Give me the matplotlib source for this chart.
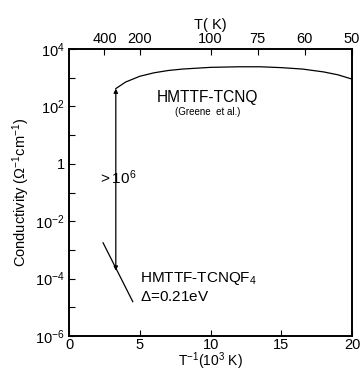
import numpy as np
import matplotlib.pyplot as plt

plt.rcParams['font.family'] = ['Liberation Sans', 'DejaVu Sans']
plt.rcParams['mathtext.fontset'] = 'custom'
plt.rcParams['mathtext.rm'] = 'Liberation Sans'
plt.rcParams['mathtext.it'] = 'Liberation Sans'

# --- datos ---
# HMTTF-TCNQ (Greene et al.)
tcnq_x = [3.3, 4.0, 5.0, 6.0, 7.0, 8.0, 10.0, 12.0, 13.5, 15.0, 16.5, 18.0, 19.0, 20.0]
tcnq_log = [2.62, 2.85, 3.05, 3.17, 3.25, 3.30, 3.36, 3.38, 3.38, 3.35, 3.30, 3.20, 3.10, 2.95]
# HMTTF-TCNQF4
tcnqf4_x = [2.4, 4.5]
tcnqf4_log = [-2.75, -4.8]
# flecha >10^6
arrow_x = 3.3
arrow_log = [2.62, -3.72]

temp_ticks = [400, 200, 100, 75, 60, 50]
ydecades = list(range(-6, 5))

fig = plt.figure(figsize=(3.6, 3.71), dpi=100)
ax = fig.add_axes([0.192, 0.094, 0.786, 0.774])

ax.plot(tcnq_x, 10.0 ** np.array(tcnq_log), color='black', lw=0.9)
ax.plot(tcnqf4_x, 10.0 ** np.array(tcnqf4_log), color='black', lw=0.9)
ax.annotate('', xy=(arrow_x, 10.0 ** arrow_log[0]), xytext=(arrow_x, 10.0 ** arrow_log[1]),
            arrowprops=dict(arrowstyle='<|-|>', color='black', lw=0.9,
                            mutation_scale=6, shrinkA=0, shrinkB=0))

ax.set_yscale('log')
ax.set_xlim(0, 20)
ax.set_ylim(1e-6, 1e4)

etiquetas = {4: '$10^4$', 2: '$10^2$', 0: '1', -2: '$10^{-2}$', -4: '$10^{-4}$', -6: '$10^{-6}$'}
ax.set_yticks([10.0 ** d for d in ydecades])
ax.set_yticklabels([etiquetas.get(d, '') for d in ydecades])
ax.minorticks_off()
ax.set_xticks([0, 5, 10, 15, 20])
ax.tick_params(direction='in', length=4, width=0.8, labelsize=10.5, pad=3)
ax.tick_params(axis='x', pad=1)

ax.set_xlabel('T$^{-1}$(10$^3$ K)', fontsize=10, labelpad=-1)
ax.set_ylabel('Conductivity ($\\Omega^{-1}$cm$^{-1}$)', fontsize=10.5, labelpad=2)

# eje superior de temperatura
ax2 = ax.twiny()
ax2.set_xlim(0, 20)
ax2.set_xticks([1000.0 / t for t in temp_ticks])
ax2.set_xticklabels([str(t) for t in temp_ticks])
ax2.tick_params(direction='in', length=4, width=0.8, labelsize=10.5, pad=2)
ax2.set_xlabel('T( K)', fontsize=10.5, labelpad=2)

for a in (ax, ax2):
    for s in a.spines.values():
        s.set_linewidth(1.2)

ax.text(9.8, 10 ** 2.3, 'HMTTF-TCNQ', fontsize=11.2, ha='center', va='center')
ax.text(9.8, 10 ** 1.8, '(Greene  et al.)', fontsize=7, ha='center', va='center')
ax.text(2.05, 10 ** -0.5, '$>$10$^6$', fontsize=11, ha='left', va='center')
ax.text(5.0, 10 ** -4.0, 'HMTTF-TCNQF$_4$', fontsize=11, ha='left', va='center')
ax.text(5.0, 10 ** -4.65, '$\\Delta$=0.21eV', fontsize=11, ha='left', va='center')

plt.savefig('out.png', dpi=100)
